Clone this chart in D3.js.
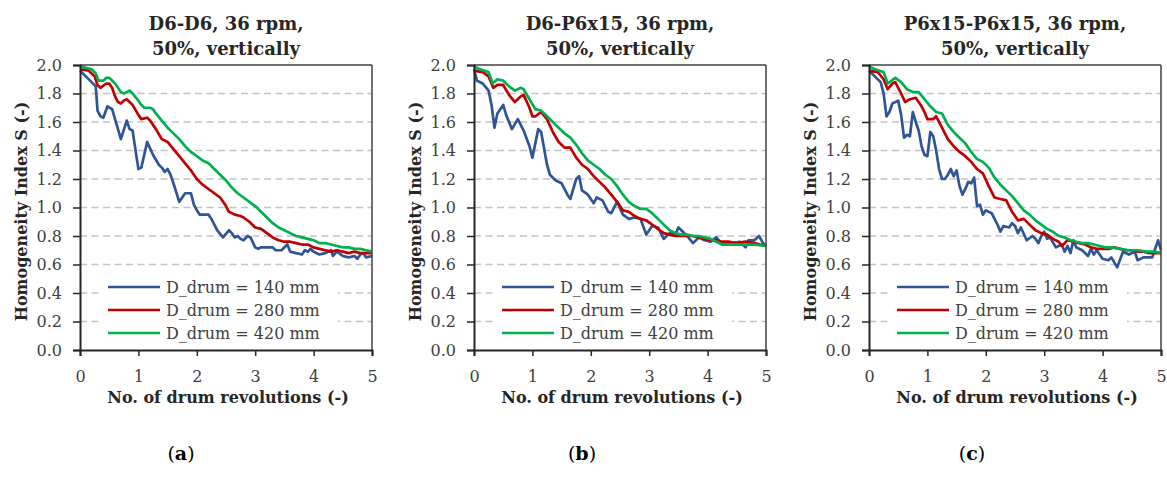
<!DOCTYPE html>
<html>
<head>
<meta charset="utf-8">
<script src="https://cdn.jsdelivr.net/npm/d3@7"></script>
<style>
html,body{margin:0;padding:0;background:#fff;}
svg{display:block;}
</style>
</head>
<body>
<svg id="chart" width="1167" height="495"></svg>
<script>
// ---------------- DATA ----------------
const panelTitles = [
  ["D6-D6, 36 rpm,", "50%, vertically"],
  ["D6-P6x15, 36 rpm,", "50%, vertically"],
  ["P6x15-P6x15, 36 rpm,", "50%, vertically"]
];
const panelCaptions = ["a", "b", "c"];
const seriesNames = ["D_drum = 140 mm", "D_drum = 280 mm", "D_drum = 420 mm"];
const xTicks = [0, 1, 2, 3, 4, 5];
const yTicks = [0.0, 0.2, 0.4, 0.6, 0.8, 1.0, 1.2, 1.4, 1.6, 1.8, 2.0];
const xTitle = "No. of drum revolutions (-)";
const yTitle = "Homogeneity Index S (-)";

// Panel (a) D6-D6
const a140 = [[0,1.96],[0.1,1.92],[0.2,1.88],[0.27,1.85],[0.3,1.68],[0.35,1.64],[0.4,1.63],[0.47,1.71],[0.55,1.69],[0.6,1.62],[0.7,1.48],[0.8,1.61],[0.85,1.55],[0.9,1.54],[0.97,1.35],[1.0,1.27],[1.05,1.28],[1.15,1.46],[1.25,1.37],[1.35,1.30],[1.4,1.28],[1.45,1.25],[1.5,1.27],[1.55,1.23],[1.6,1.17],[1.7,1.04],[1.8,1.10],[1.9,1.10],[1.95,1.02],[2.0,0.98],[2.05,0.95],[2.2,0.95],[2.25,0.92],[2.35,0.84],[2.45,0.79],[2.55,0.84],[2.6,0.82],[2.65,0.79],[2.7,0.80],[2.75,0.78],[2.8,0.77],[2.87,0.80],[2.92,0.79],[3.0,0.72],[3.05,0.71],[3.1,0.72],[3.2,0.72],[3.3,0.72],[3.35,0.70],[3.45,0.70],[3.55,0.74],[3.6,0.69],[3.7,0.68],[3.8,0.67],[3.85,0.70],[3.9,0.69],[3.95,0.71],[4.0,0.69],[4.1,0.67],[4.2,0.68],[4.3,0.70],[4.33,0.66],[4.4,0.69],[4.5,0.66],[4.6,0.65],[4.7,0.66],[4.75,0.64],[4.8,0.67],[4.85,0.68],[4.9,0.65],[5.0,0.66]];
const a280 = [[0,1.97],[0.15,1.96],[0.25,1.92],[0.3,1.86],[0.35,1.84],[0.45,1.87],[0.5,1.87],[0.55,1.84],[0.6,1.78],[0.65,1.74],[0.7,1.73],[0.75,1.75],[0.8,1.76],[0.9,1.72],[1.0,1.65],[1.05,1.62],[1.15,1.63],[1.2,1.61],[1.3,1.55],[1.4,1.48],[1.5,1.46],[1.6,1.41],[1.7,1.36],[1.8,1.31],[1.9,1.26],[2.0,1.20],[2.1,1.16],[2.2,1.13],[2.3,1.10],[2.4,1.07],[2.5,1.01],[2.55,0.97],[2.65,0.95],[2.75,0.94],[2.8,0.93],[2.9,0.90],[3.0,0.86],[3.1,0.85],[3.2,0.82],[3.3,0.79],[3.4,0.77],[3.5,0.76],[3.6,0.76],[3.7,0.75],[3.8,0.74],[3.9,0.74],[4.0,0.72],[4.1,0.71],[4.2,0.70],[4.3,0.69],[4.4,0.70],[4.5,0.69],[4.6,0.68],[4.7,0.69],[4.8,0.68],[4.9,0.68],[5.0,0.68]];
const a420 = [[0,1.99],[0.1,1.98],[0.2,1.97],[0.27,1.94],[0.32,1.89],[0.4,1.89],[0.45,1.91],[0.5,1.91],[0.6,1.87],[0.7,1.81],[0.75,1.80],[0.85,1.82],[0.9,1.80],[1.0,1.75],[1.05,1.72],[1.1,1.70],[1.2,1.70],[1.25,1.69],[1.3,1.66],[1.4,1.61],[1.5,1.56],[1.6,1.52],[1.7,1.48],[1.8,1.43],[1.9,1.39],[2.0,1.36],[2.1,1.33],[2.2,1.31],[2.3,1.27],[2.4,1.23],[2.5,1.19],[2.6,1.14],[2.7,1.10],[2.8,1.07],[2.9,1.04],[3.0,1.01],[3.1,0.97],[3.2,0.93],[3.3,0.89],[3.4,0.86],[3.5,0.84],[3.6,0.82],[3.7,0.80],[3.8,0.79],[3.9,0.78],[4.0,0.77],[4.1,0.75],[4.2,0.75],[4.3,0.74],[4.4,0.73],[4.5,0.72],[4.6,0.72],[4.7,0.71],[4.8,0.71],[4.9,0.70],[5.0,0.69]];

// Panel (b) D6-P6x15
const b140 = [[0,1.97],[0.05,1.89],[0.15,1.87],[0.25,1.82],[0.3,1.72],[0.35,1.56],[0.4,1.66],[0.5,1.72],[0.55,1.65],[0.65,1.55],[0.75,1.62],[0.85,1.54],[0.95,1.43],[1.0,1.35],[1.1,1.55],[1.15,1.53],[1.25,1.30],[1.3,1.23],[1.4,1.19],[1.5,1.17],[1.6,1.09],[1.65,1.06],[1.75,1.20],[1.8,1.22],[1.85,1.12],[1.95,1.09],[2.05,1.03],[2.1,1.07],[2.2,1.05],[2.3,0.97],[2.35,0.96],[2.45,1.04],[2.55,0.95],[2.65,0.92],[2.75,0.93],[2.85,0.92],[2.95,0.81],[3.05,0.87],[3.15,0.86],[3.25,0.78],[3.35,0.82],[3.45,0.81],[3.5,0.86],[3.55,0.84],[3.65,0.80],[3.75,0.75],[3.85,0.79],[3.95,0.77],[4.05,0.76],[4.15,0.79],[4.25,0.74],[4.35,0.74],[4.45,0.75],[4.55,0.76],[4.65,0.72],[4.7,0.77],[4.8,0.77],[4.88,0.80],[4.95,0.75],[5.0,0.73]];
const b280 = [[0,1.96],[0.15,1.95],[0.25,1.92],[0.33,1.84],[0.4,1.86],[0.5,1.86],[0.6,1.79],[0.7,1.74],[0.8,1.78],[0.85,1.79],[0.95,1.70],[1.0,1.64],[1.05,1.64],[1.15,1.67],[1.25,1.62],[1.35,1.53],[1.45,1.46],[1.55,1.42],[1.65,1.42],[1.75,1.35],[1.85,1.30],[1.95,1.27],[2.05,1.22],[2.15,1.18],[2.25,1.14],[2.35,1.09],[2.45,1.04],[2.55,0.98],[2.65,0.97],[2.75,0.94],[2.85,0.92],[2.95,0.91],[3.05,0.88],[3.15,0.85],[3.25,0.82],[3.35,0.81],[3.45,0.80],[3.55,0.80],[3.65,0.80],[3.75,0.80],[3.85,0.79],[3.95,0.78],[4.05,0.77],[4.15,0.77],[4.25,0.76],[4.35,0.76],[4.5,0.75],[4.65,0.76],[4.8,0.75],[4.9,0.74],[5.0,0.73]];
const b420 = [[0,1.99],[0.1,1.97],[0.25,1.95],[0.32,1.87],[0.4,1.90],[0.5,1.89],[0.6,1.85],[0.7,1.82],[0.8,1.84],[0.85,1.83],[0.95,1.76],[1.05,1.69],[1.15,1.68],[1.25,1.64],[1.35,1.60],[1.45,1.56],[1.55,1.52],[1.65,1.49],[1.75,1.44],[1.85,1.38],[1.95,1.33],[2.05,1.30],[2.15,1.27],[2.25,1.23],[2.35,1.20],[2.45,1.15],[2.55,1.09],[2.65,1.04],[2.75,1.01],[2.85,0.99],[2.95,0.99],[3.05,0.96],[3.15,0.92],[3.25,0.88],[3.35,0.84],[3.45,0.82],[3.55,0.81],[3.65,0.81],[3.75,0.80],[3.85,0.80],[3.95,0.79],[4.05,0.78],[4.15,0.76],[4.25,0.74],[4.35,0.74],[4.5,0.74],[4.65,0.74],[4.8,0.74],[5.0,0.73]];

// Panel (c) P6x15-P6x15
const c140 = [[0,1.96],[0.1,1.92],[0.2,1.88],[0.25,1.80],[0.3,1.64],[0.35,1.67],[0.4,1.73],[0.5,1.75],[0.55,1.65],[0.6,1.49],[0.65,1.51],[0.7,1.50],[0.75,1.67],[0.8,1.60],[0.85,1.54],[0.9,1.43],[0.95,1.37],[1.0,1.36],[1.05,1.53],[1.1,1.50],[1.15,1.40],[1.2,1.27],[1.25,1.20],[1.3,1.20],[1.35,1.23],[1.4,1.27],[1.45,1.22],[1.5,1.26],[1.55,1.15],[1.6,1.09],[1.65,1.13],[1.7,1.18],[1.75,1.17],[1.8,1.21],[1.85,1.01],[1.9,1.02],[1.95,0.95],[2.0,0.98],[2.1,0.96],[2.2,0.88],[2.25,0.83],[2.3,0.87],[2.4,0.86],[2.45,0.89],[2.5,0.87],[2.55,0.82],[2.6,0.86],[2.7,0.77],[2.8,0.80],[2.85,0.78],[2.9,0.75],[2.95,0.80],[3.0,0.83],[3.05,0.78],[3.1,0.79],[3.2,0.72],[3.3,0.74],[3.35,0.69],[3.4,0.73],[3.45,0.68],[3.5,0.77],[3.55,0.72],[3.65,0.70],[3.75,0.66],[3.8,0.71],[3.85,0.67],[3.9,0.70],[4.0,0.64],[4.1,0.63],[4.15,0.65],[4.25,0.58],[4.35,0.69],[4.45,0.67],[4.55,0.69],[4.6,0.63],[4.7,0.65],[4.85,0.65],[4.95,0.77],[5.0,0.70]];
const c280 = [[0,1.96],[0.15,1.95],[0.25,1.90],[0.32,1.83],[0.4,1.87],[0.45,1.88],[0.55,1.80],[0.62,1.74],[0.7,1.76],[0.8,1.77],[0.9,1.71],[0.95,1.67],[1.0,1.62],[1.1,1.62],[1.15,1.64],[1.25,1.56],[1.35,1.48],[1.45,1.43],[1.55,1.39],[1.65,1.36],[1.75,1.32],[1.85,1.27],[1.95,1.24],[2.05,1.15],[2.15,1.07],[2.25,1.06],[2.35,1.05],[2.45,0.97],[2.55,0.91],[2.65,0.92],[2.75,0.88],[2.85,0.84],[2.95,0.82],[3.05,0.81],[3.15,0.78],[3.25,0.76],[3.3,0.73],[3.4,0.77],[3.5,0.76],[3.6,0.75],[3.7,0.74],[3.8,0.72],[3.9,0.71],[4.0,0.71],[4.1,0.71],[4.2,0.72],[4.3,0.71],[4.4,0.70],[4.5,0.70],[4.6,0.69],[4.7,0.69],[4.8,0.68],[4.9,0.68],[5.0,0.68]];
const c420 = [[0,1.99],[0.1,1.97],[0.25,1.95],[0.32,1.87],[0.45,1.91],[0.55,1.88],[0.65,1.83],[0.75,1.81],[0.85,1.81],[0.95,1.76],[1.05,1.71],[1.15,1.67],[1.25,1.66],[1.35,1.58],[1.45,1.53],[1.55,1.49],[1.65,1.45],[1.75,1.39],[1.85,1.34],[1.95,1.32],[2.05,1.28],[2.15,1.21],[2.25,1.16],[2.35,1.12],[2.45,1.08],[2.55,1.03],[2.65,0.98],[2.75,0.95],[2.85,0.91],[2.95,0.88],[3.05,0.85],[3.15,0.83],[3.25,0.80],[3.35,0.79],[3.45,0.77],[3.55,0.76],[3.65,0.75],[3.75,0.75],[3.85,0.74],[3.95,0.73],[4.05,0.72],[4.15,0.72],[4.3,0.71],[4.45,0.70],[4.6,0.70],[4.75,0.69],[4.9,0.69],[5.0,0.68]];

const panelSeries = [[a140, a280, a420], [b140, b280, b420], [c140, c280, c420]];

// ---------------- STYLE / LAYOUT ----------------
const colors = ["#2F5597", "#C00000", "#00B050"];
const serif = "'DejaVu Serif', 'Liberation Serif', serif";
const panelLefts = [80, 474, 869];
const plotW = 292, plotTop = 65, plotBottom = 350;

const svg = d3.select("#chart");

panelTitles.forEach((title, p) => {
  const left = panelLefts[p];
  const g = svg.append("g");
  const x = d3.scaleLinear().domain([0, 5]).range([left, left + plotW]);
  const y = d3.scaleLinear().domain([0, 2]).range([plotBottom, plotTop]);

  // gridlines
  g.append("g").selectAll("line").data(yTicks.filter(v => v > 0 && v < 2)).join("line")
    .attr("x1", left).attr("x2", left + plotW)
    .attr("y1", d => y(d)).attr("y2", d => y(d))
    .attr("stroke", "#c4c4c4").attr("stroke-width", 1.6)
    .attr("stroke-dasharray", "7,4.5");

  // series lines
  const line = d3.line().x(d => x(d[0])).y(d => y(d[1]));
  panelSeries[p].forEach((s, i) => {
    g.append("path").datum(s).attr("d", line)
      .attr("fill", "none").attr("stroke", colors[i])
      .attr("stroke-width", 2.7).attr("stroke-linejoin", "round");
  });

  // frame top/right
  g.append("line").attr("x1", left).attr("x2", left + plotW).attr("y1", plotTop).attr("y2", plotTop)
    .attr("stroke", "#404040").attr("stroke-width", 1.5);
  g.append("line").attr("x1", left + plotW).attr("x2", left + plotW).attr("y1", plotTop).attr("y2", plotBottom)
    .attr("stroke", "#404040").attr("stroke-width", 1.5);

  // axes
  const yAxis = d3.axisLeft(y).tickValues(yTicks).tickFormat(d3.format(".1f")).tickSizeOuter(0).tickSize(7).tickPadding(11);
  const ya = g.append("g").attr("transform", `translate(${left},0)`).call(yAxis);
  const xAxis = d3.axisBottom(x).tickValues(xTicks).tickFormat(d3.format("d")).tickSizeOuter(0).tickSize(6).tickPadding(15);
  const xa = g.append("g").attr("transform", `translate(0,${plotBottom})`).call(xAxis);
  [ya, xa].forEach(a => {
    a.select(".domain").attr("stroke", "#262626").attr("stroke-width", 2);
    a.selectAll(".tick line").attr("stroke", "#262626").attr("stroke-width", 1.5);
    a.selectAll(".tick text").attr("font-family", serif).attr("font-size", 16).attr("fill", "#404040");
  });

  // legend
  const lg = g.append("g");
  lg.append("rect").attr("x", left + 20).attr("y", 272).attr("width", 238).attr("height", 72).attr("fill", "#fff");
  seriesNames.forEach((name, i) => {
    const ly = 287 + i * 23;
    lg.append("line").attr("x1", left + 28).attr("x2", left + 80).attr("y1", ly).attr("y2", ly)
      .attr("stroke", colors[i]).attr("stroke-width", 2.7);
    lg.append("text").attr("x", left + 86).attr("y", ly).attr("dy", "0.35em")
      .attr("font-family", serif).attr("font-size", 16).attr("fill", "#404040").text(name);
  });

  // titles
  const cx = left + plotW / 2;
  title.forEach((t, k) => {
    g.append("text").attr("x", cx).attr("y", 30 + k * 25).attr("text-anchor", "middle")
      .attr("font-family", serif).attr("font-weight", "bold").attr("font-size", 18)
      .attr("fill", "#262626").text(t);
  });

  // axis titles
  g.append("text").attr("x", cx + 2).attr("y", 403).attr("text-anchor", "middle")
    .attr("font-family", serif).attr("font-weight", "bold").attr("font-size", 16)
    .attr("fill", "#262626").text(xTitle);
  g.append("text").attr("transform", `translate(${left - 53},${(plotTop + plotBottom) / 2 + 4}) rotate(-90)`)
    .attr("text-anchor", "middle")
    .attr("font-family", serif).attr("font-weight", "bold").attr("font-size", 16)
    .attr("fill", "#262626").text(yTitle);

  // caption
  const cap = svg.append("text").attr("x", [181, 582, 972][p]).attr("y", 460).attr("text-anchor", "middle")
    .attr("font-family", serif).attr("font-size", 19).attr("fill", "#000");
  cap.append("tspan").text("(");
  cap.append("tspan").attr("font-weight", "bold").text(panelCaptions[p]);
  cap.append("tspan").text(")");
});
</script>
</body>
</html>
